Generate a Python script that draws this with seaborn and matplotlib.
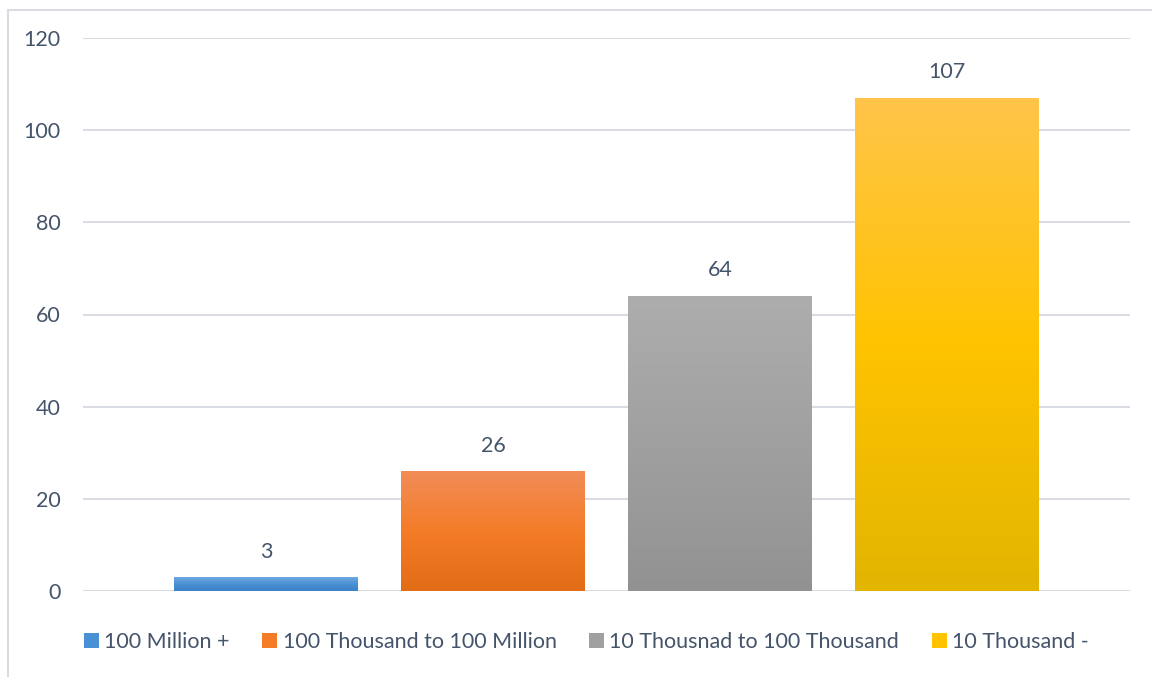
import numpy as np
import matplotlib
matplotlib.use("Agg")
import matplotlib.pyplot as plt
from matplotlib.colors import LinearSegmentedColormap
from matplotlib.patches import Patch
from matplotlib.lines import Line2D
import seaborn as sns

categories = ["100 Million +", "100 Thousand to 100 Million",
              "10 Thousnad to 100 Thousand", "10 Thousand -"]
values = [3, 26, 64, 107]
yticks = [0, 20, 40, 60, 80, 100, 120]

base_colors = ["#4A90D4", "#F47C27", "#A0A0A0", "#FFC300"]
grad_top = ["#6FA9E0", "#F18D58", "#ADADAD", "#FFC54A"]
grad_bot = ["#3B82C4", "#E36C16", "#929292", "#E2B500"]

TEXT = "#44546A"
GRID = "#D9DDE3"

sns.set_theme(style="white")
plt.rcParams["font.family"] = ["Lato", "DejaVu Sans"]

fig = plt.figure(figsize=(11.52, 6.77), dpi=100)
ax = fig.add_axes([83 / 1152, 1 - 591 / 677, (1130 - 83) / 1152, (591 - 38) / 677])

sns.barplot(x=categories, y=values, hue=categories, palette=base_colors,
            width=0.81, legend=False, ax=ax, zorder=3, linewidth=0)

ax.set_ylim(0, 120)
ax.set_xlim(-0.806, 3.806)
ax.set_yticks(yticks)
ax.set_yticklabels([str(t) for t in yticks])
ax.set_xticks([])
ax.set_xlabel("")
ax.set_ylabel("")
ax.tick_params(axis="y", length=0, pad=16, labelsize=15.5, labelcolor=TEXT)
for s in ax.spines.values():
    s.set_visible(False)
ax.yaxis.grid(True, color=GRID, linewidth=1.5, zorder=0)
ax.set_axisbelow(True)

# gradient fills clipped to each bar
patches = sorted(ax.patches, key=lambda p: p.get_x())
for i, p in enumerate(patches):
    x0, y0 = p.get_x(), p.get_y()
    w, h = p.get_width(), p.get_height()
    cmap = LinearSegmentedColormap.from_list(
        f"g{i}", [grad_bot[i], base_colors[i], grad_top[i]])
    grad = np.linspace(0, 1, 256).reshape(-1, 1)
    im = ax.imshow(grad, cmap=cmap, origin="lower", aspect="auto",
                   extent=[x0, x0 + w, y0, y0 + h], zorder=4)
    im.set_clip_path(p)
    ax.text(x0 + w / 2, y0 + h + 3.4, str(values[i]), ha="center", va="bottom",
            fontsize=15.5, color=TEXT, zorder=5)
ax.set_xlim(-0.806, 3.806)
ax.set_ylim(0, 120)

handles = [Patch(facecolor=base_colors[i], edgecolor="none") for i in range(4)]
fig.legend(handles, categories, loc="center", bbox_to_anchor=(0.509, 1 - 642 / 677),
           ncol=4, frameon=False, fontsize=15.5, labelcolor=TEXT,
           handlelength=0.7, handleheight=0.7, handletextpad=0.25, columnspacing=1.5)

# outer chart border (left and top visible)
fig.add_artist(Line2D([7.5 / 1152, 7.5 / 1152], [0, 1 - 9.5 / 677],
                      transform=fig.transFigure, color=GRID, linewidth=1.5))
fig.add_artist(Line2D([7.5 / 1152, 1], [1 - 9.5 / 677, 1 - 9.5 / 677],
                      transform=fig.transFigure, color=GRID, linewidth=1.5))

fig.savefig("out.png", dpi=100, facecolor="white")
